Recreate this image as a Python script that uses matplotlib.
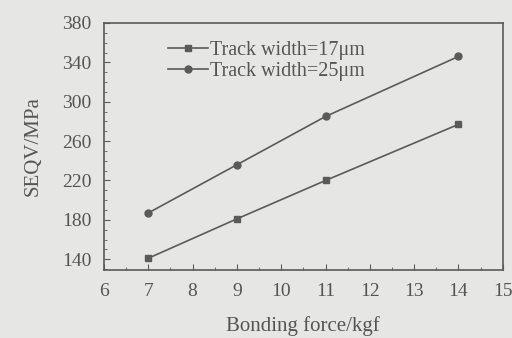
import matplotlib
matplotlib.use("Agg")
import matplotlib.pyplot as plt
from matplotlib.ticker import MultipleLocator

force = [7, 9, 11, 14]
seqv_17 = [141, 181, 220, 277]
seqv_25 = [187, 236, 285, 346]
labels = ["Track width=17\u03bcm", "Track width=25\u03bcm"]
yticks = [140, 180, 220, 260, 300, 340, 380]

plt.rcParams['font.family'] = ['Liberation Serif', 'DejaVu Serif']
bg = '#e6e6e4'
fig = plt.figure(figsize=(5.12, 3.38), dpi=100, facecolor=bg)
ax = fig.add_axes([0.203, 0.201, 0.779, 0.731], facecolor=bg)
c = '#5a5a5a'
ax.plot(force, seqv_17, '-s', color=c, lw=1.2, ms=5, label=labels[0])
ax.plot(force, seqv_25, '-o', color=c, lw=1.2, ms=5, label=labels[1])
ax.set_xlim(6, 15)
ax.set_ylim(129, 380)
ax.xaxis.set_major_locator(MultipleLocator(1))
ax.xaxis.set_minor_locator(MultipleLocator(0.5))
ax.set_yticks(yticks)
ax.yaxis.set_minor_locator(MultipleLocator(10))
ax.tick_params(which='both', direction='in', colors=c, labelcolor='#555555', labelsize=14)
ax.tick_params(which='major', length=4)
ax.tick_params(which='minor', length=2)
ax.tick_params(axis='y', which='major', pad=9)
ax.tick_params(axis='x', which='major', pad=9)
for s in ax.spines.values():
    s.set_color(c)
    s.set_linewidth(1.2)
ax.set_xlabel("Bonding force/kgf", fontsize=15, color='#555555', labelpad=12)
ax.set_ylabel("SEQV/MPa", fontsize=15, color='#555555', labelpad=14)
ax.legend(loc='upper left', bbox_to_anchor=(0.115, 1.0), frameon=False, fontsize=14.5,
          handlelength=2.0, handletextpad=0.1, labelspacing=0.1, labelcolor='#555555')
fig.savefig("out.png", dpi=100, facecolor=bg)
